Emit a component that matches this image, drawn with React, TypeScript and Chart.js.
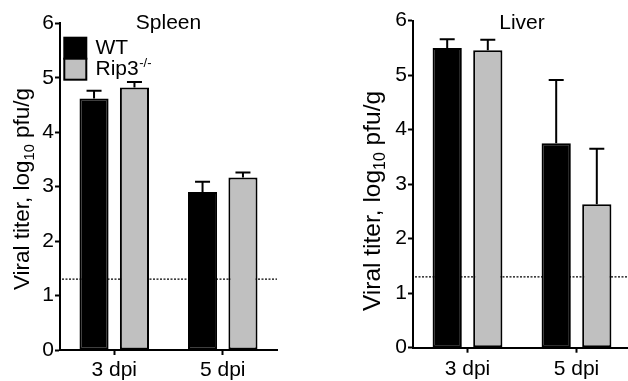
import React, { useEffect, useRef } from 'react';
import { Chart, registerables } from 'chart.js';

Chart.register(...registerables);

// ---- data ----
const categories = ['3 dpi', '5 dpi'];
const yTickValues = [0, 1, 2, 3, 4, 5, 6];
const spleenWT = [4.62, 2.9];
const spleenWTErr = [0.14, 0.19];
const spleenKO = [4.82, 3.17];
const spleenKOErr = [0.1, 0.09];
const liverWT = [5.5, 3.75];
const liverWTErr = [0.16, 1.16];
const liverKO = [5.46, 2.63];
const liverKOErr = [0.19, 1.02];
const detectionLimit = 1.3;
const seriesNames = ['WT', 'Rip3'];
const seriesSuperscripts = ['', '-/-'];
const panelTitles = ['Spleen', 'Liver'];
const yTitleParts = ['Viral titer, log', '10', ' pfu/g'];

const FONT = '"Liberation Sans", Arial, Helvetica, sans-serif';
const WT_COLOR = '#000000';
const KO_COLOR = '#c0c0c0';

type Panel = {
  title: string;
  wt: number[];
  wtErr: number[];
  ko: number[];
  koErr: number[];
  canvasW: number;
  axisW: number;
  padTop: number;
  padRight: number;
  xH: number;
  xLabelPad: number;
  yTitleX: number;
  yTitleCY: number;
  yTitleSize: number;
  legend: boolean;
};

function drawYTitle(ctx: CanvasRenderingContext2D, x: number, cy: number, size: number) {
  const subSize = size * 0.65;
  ctx.save();
  ctx.fillStyle = '#000';
  ctx.textBaseline = 'alphabetic';
  ctx.textAlign = 'left';
  ctx.font = `${size}px ${FONT}`;
  const w0 = ctx.measureText(yTitleParts[0]).width;
  const w2 = ctx.measureText(yTitleParts[2]).width;
  ctx.font = `${subSize}px ${FONT}`;
  const w1 = ctx.measureText(yTitleParts[1]).width;
  const total = w0 + w1 + w2;
  ctx.translate(x, cy);
  ctx.rotate(-Math.PI / 2);
  let cx = -total / 2;
  ctx.font = `${size}px ${FONT}`;
  ctx.fillText(yTitleParts[0], cx, 0);
  cx += w0;
  ctx.font = `${subSize}px ${FONT}`;
  ctx.fillText(yTitleParts[1], cx, size * 0.22);
  cx += w1;
  ctx.font = `${size}px ${FONT}`;
  ctx.fillText(yTitleParts[2], cx, 0);
  ctx.restore();
}

function drawLegend(ctx: CanvasRenderingContext2D) {
  ctx.save();
  const bx = 64.3;
  const bw = 22;
  const top = 37.7;
  const h = 21;
  const colors = [WT_COLOR, KO_COLOR];
  for (let i = 0; i < seriesNames.length; i++) {
    const y = top + i * h;
    ctx.fillStyle = colors[i];
    ctx.fillRect(bx, y, bw, h);
    ctx.strokeStyle = '#000';
    ctx.lineWidth = 2;
    ctx.strokeRect(bx, y, bw, h);
    ctx.fillStyle = '#000';
    ctx.textAlign = 'left';
    ctx.textBaseline = 'alphabetic';
    ctx.font = `21px ${FONT}`;
    const baseY = y + h - 4.5;
    ctx.fillText(seriesNames[i], 95.5, baseY);
    const w = ctx.measureText(seriesNames[i]).width;
    if (seriesSuperscripts[i]) {
      ctx.font = `13px ${FONT}`;
      ctx.fillText(seriesSuperscripts[i], 95.5 + w + 0.5, baseY - 8);
    }
  }
  ctx.restore();
}

function buildChart(canvas: HTMLCanvasElement, p: Panel) {
  const errs = [p.wtErr, p.koErr];
  const limitPlugin = {
    id: 'limitLine',
    beforeDatasetsDraw(chart: any) {
      const { ctx, chartArea, scales } = chart;
      const y = scales.y.getPixelForValue(detectionLimit);
      ctx.save();
      ctx.strokeStyle = '#000';
      ctx.lineWidth = 1.3;
      ctx.setLineDash([2, 1.5]);
      ctx.beginPath();
      ctx.moveTo(chartArea.left + 2, y);
      ctx.lineTo(chartArea.right, y);
      ctx.stroke();
      ctx.restore();
    },
  };
  const errPlugin = {
    id: 'errorBars',
    afterDatasetsDraw(chart: any) {
      const { ctx, scales } = chart;
      chart.data.datasets.forEach((ds: any, di: number) => {
        const meta = chart.getDatasetMeta(di);
        meta.data.forEach((el: any, i: number) => {
          const v = ds.data[i] as number;
          const yTop = scales.y.getPixelForValue(v + errs[di][i]);
          const x = el.x;
          ctx.save();
          ctx.strokeStyle = '#000';
          ctx.lineWidth = 2;
          ctx.beginPath();
          ctx.moveTo(x, el.y);
          ctx.lineTo(x, yTop);
          ctx.moveTo(x - 7.5, yTop);
          ctx.lineTo(x + 7.5, yTop);
          ctx.stroke();
          ctx.restore();
        });
      });
    },
  };
  const decorPlugin = {
    id: 'decor',
    afterDraw(chart: any) {
      const { ctx, chartArea } = chart;
      ctx.save();
      ctx.fillStyle = '#000';
      ctx.font = `21px ${FONT}`;
      ctx.textAlign = 'center';
      ctx.textBaseline = 'alphabetic';
      ctx.fillText(p.title, (chartArea.left + chartArea.right) / 2, 28.5);
      ctx.restore();
      drawYTitle(ctx, p.yTitleX, p.yTitleCY, p.yTitleSize);
      if (p.legend) drawLegend(ctx);
    },
  };

  const gridCommon = {
    drawOnChartArea: false,
    drawTicks: true,
    tickLength: 5,
    tickWidth: 2,
    tickColor: '#000',
  };

  return new Chart(canvas, {
    type: 'bar',
    data: {
      labels: categories,
      datasets: [
        {
          label: seriesNames[0],
          data: p.wt,
          backgroundColor: WT_COLOR,
          borderColor: '#000',
          borderWidth: 2,
          borderSkipped: false,
          categoryPercentage: 0.745,
          barPercentage: 0.72,
        },
        {
          label: seriesNames[1],
          data: p.ko,
          backgroundColor: KO_COLOR,
          borderColor: '#000',
          borderWidth: 2,
          borderSkipped: false,
          categoryPercentage: 0.745,
          barPercentage: 0.72,
        },
      ],
    },
    options: {
      responsive: false,
      animation: false,
      devicePixelRatio: 1,
      layout: { padding: { top: p.padTop, right: p.padRight, left: 0, bottom: 0 } },
      plugins: {
        legend: { display: false },
        title: { display: false },
        tooltip: { enabled: false },
      },
      scales: {
        x: {
          grid: { ...gridCommon, offset: false },
          border: { display: true, color: '#000', width: 2 },
          ticks: {
            color: '#000',
            font: { family: FONT, size: 21 },
            padding: p.xLabelPad,
            maxRotation: 0,
          },
          afterFit(scale: any) {
            scale.height = p.xH;
          },
        },
        y: {
          min: yTickValues[0],
          max: yTickValues[yTickValues.length - 1],
          grid: gridCommon,
          border: { display: true, color: '#000', width: 2 },
          ticks: {
            stepSize: 1,
            color: '#000',
            font: { family: FONT, size: 21 },
            padding: 1,
          },
          afterBuildTicks(scale: any) {
            scale.ticks = yTickValues.map((v) => ({ value: v }));
          },
          afterFit(scale: any) {
            scale.width = p.axisW;
          },
        },
      },
    },
    plugins: [limitPlugin, errPlugin, decorPlugin],
  } as any);
}

const leftPanel: Panel = {
  title: panelTitles[0],
  wt: spleenWT,
  wtErr: spleenWTErr,
  ko: spleenKO,
  koErr: spleenKOErr,
  canvasW: 300,
  axisW: 60,
  padTop: 23.3,
  padRight: 23,
  xH: 31,
  xLabelPad: 3,
  yTitleX: 29,
  yTitleCY: 189,
  yTitleSize: 22.5,
  legend: true,
};

const rightPanel: Panel = {
  title: panelTitles[1],
  wt: liverWT,
  wtErr: liverWTErr,
  ko: liverKO,
  koErr: liverKOErr,
  canvasW: 330,
  axisW: 95,
  padTop: 20.7,
  padRight: 17,
  xH: 33.3,
  xLabelPad: 4,
  yTitleX: 62,
  yTitleCY: 201,
  yTitleSize: 24.5,
  legend: false,
};

export default function App() {
  const leftRef = useRef<HTMLCanvasElement>(null);
  const rightRef = useRef<HTMLCanvasElement>(null);

  useEffect(() => {
    const c1 = leftRef.current ? buildChart(leftRef.current, leftPanel) : null;
    const c2 = rightRef.current ? buildChart(rightRef.current, rightPanel) : null;
    return () => {
      c1?.destroy();
      c2?.destroy();
    };
  }, []);

  return (
    <div
      style={{
        position: 'fixed',
        left: 0,
        top: 0,
        width: 628,
        height: 381,
        overflow: 'hidden',
        background: '#fff',
      }}
    >
      <canvas
        ref={leftRef}
        width={leftPanel.canvasW}
        height={381}
        style={{ position: 'absolute', left: 0, top: 0, width: leftPanel.canvasW, height: 381 }}
      />
      <canvas
        ref={rightRef}
        width={rightPanel.canvasW}
        height={381}
        style={{ position: 'absolute', left: 318, top: 0, width: rightPanel.canvasW, height: 381 }}
      />
    </div>
  );
}
